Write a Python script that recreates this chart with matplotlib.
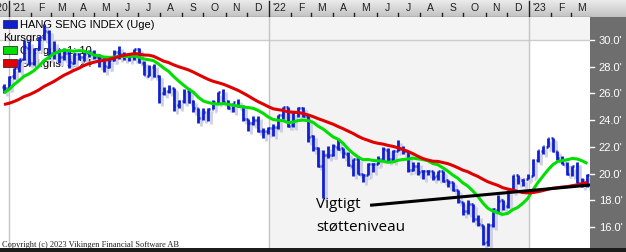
import numpy as np
import pandas as pd
import matplotlib
matplotlib.use('Agg')
import matplotlib.pyplot as plt
import matplotlib.dates as mdates
import matplotlib.transforms as mtransforms
from matplotlib.patches import Rectangle

# ugentlige data, HANG SENG INDEX i tusinder (uge start mandag)
week_start = pd.date_range('2020-12-21', '2023-03-20', freq='7D')

opens = [26.5, 26.4,
         27.3, 27.9, 28.6, 29.4, 28.3, 29.3, 30.2, 30.6, 29.0, 29.1, 28.7, 29.0, 28.3,
         28.9, 28.7, 29.0, 29.1, 28.7, 28.6, 28.0, 28.5, 29.1, 28.9, 28.8, 28.8, 29.3,
         28.3, 27.3, 28.0, 27.3, 26.0, 26.2, 26.4, 25.1, 25.4, 26.2, 25.4, 24.9, 24.2,
         24.6, 24.8, 25.3, 26.1, 25.4, 24.9, 25.3, 25.0, 24.1, 23.8, 24.0, 23.2, 23.2,
         23.4, 23.5, 24.4, 25.0, 23.6, 24.6, 24.9, 24.3, 22.8, 21.9, 20.6, 21.4, 21.4,
         22.0, 21.9, 21.5, 20.6, 21.1, 20.0, 19.9, 20.7, 20.7, 21.1, 21.8, 21.1, 21.7,
         21.9, 21.7, 20.3, 20.6, 20.2, 20.2, 20.2, 19.8, 20.2, 19.5, 19.4, 18.8, 17.9,
         17.2, 17.7, 16.6, 16.2, 14.9, 16.2, 17.3, 18.0, 17.6, 18.7, 19.9, 19.5, 19.6,
         19.8, 21.0, 21.7, 22.0, 22.7, 21.7, 21.2, 20.7, 20.0, 20.6, 19.3, 19.5]
highs = [26.7, 27.3,
         27.9, 28.6, 30.0, 29.9, 29.4, 30.2, 31.2, 30.7, 29.9, 29.3, 29.4, 29.1, 29.0,
         29.0, 29.0, 29.2, 29.2, 28.9, 28.7, 28.6, 29.2, 29.5, 29.1, 29.0, 29.3, 29.4,
         28.4, 28.1, 28.2, 27.4, 26.5, 26.6, 26.4, 25.5, 26.3, 26.4, 25.5, 24.9, 24.9,
         24.9, 25.5, 26.1, 26.3, 25.5, 25.3, 25.6, 25.1, 24.1, 24.3, 24.3, 23.4, 23.5,
         23.7, 24.4, 25.0, 25.0, 24.6, 25.0, 25.0, 24.3, 22.9, 22.0, 21.8, 22.1, 22.2,
         22.6, 21.9, 21.6, 21.1, 21.2, 20.0, 20.8, 20.8, 21.3, 22.0, 21.9, 21.8, 22.5,
         22.1, 21.7, 20.9, 20.9, 20.3, 20.3, 20.2, 20.2, 20.2, 19.5, 19.4, 18.8, 17.9,
         18.0, 17.7, 16.9, 16.2, 16.3, 17.4, 18.4, 18.0, 18.8, 19.9, 19.9, 19.6, 20.0,
         21.1, 21.8, 22.1, 22.7, 22.7, 21.7, 21.3, 20.9, 20.6, 20.9, 19.7, 20.0]
lows = [26.0, 26.3,
        27.1, 27.6, 28.5, 28.1, 28.1, 29.2, 30.0, 28.6, 28.6, 28.3, 28.5, 27.9, 28.2,
        28.5, 28.4, 28.7, 28.6, 28.0, 27.6, 27.9, 28.4, 28.6, 28.5, 28.4, 28.5, 28.3,
        27.4, 27.3, 27.2, 25.3, 25.9, 26.0, 24.7, 24.9, 25.3, 25.3, 24.6, 23.8, 24.0,
        23.9, 24.8, 25.3, 25.3, 24.8, 24.6, 25.0, 23.9, 23.2, 23.6, 23.1, 22.7, 23.0,
        22.8, 23.3, 24.1, 23.5, 23.5, 24.2, 24.2, 22.4, 21.7, 20.5, 18.2, 21.2, 21.3,
        21.8, 21.2, 20.6, 19.8, 20.0, 19.4, 19.9, 20.1, 20.7, 21.0, 20.9, 20.9, 21.7,
        21.5, 20.1, 20.2, 19.9, 19.6, 19.9, 19.5, 19.5, 19.4, 19.0, 18.7, 17.8, 16.9,
        17.0, 16.4, 16.1, 14.7, 14.6, 16.0, 17.1, 17.3, 17.4, 18.6, 19.2, 19.1, 19.6,
        19.8, 20.9, 21.5, 22.0, 21.6, 21.0, 20.7, 19.9, 19.8, 19.3, 19.0, 19.0]
closes = [26.39, 27.23,
          27.88, 28.57, 29.45, 28.28, 29.29, 30.17, 30.64, 28.98, 29.10, 28.74, 28.99, 28.34, 28.94,
          28.70, 28.97, 29.08, 28.72, 28.61, 28.03, 28.46, 29.12, 28.92, 28.84, 28.80, 29.29, 28.31,
          27.34, 28.00, 27.32, 25.96, 26.18, 26.39, 25.05, 25.41, 26.16, 25.37, 24.92, 24.19, 24.58,
          24.84, 25.33, 26.13, 25.38, 24.87, 25.33, 25.05, 24.08, 23.77, 24.00, 23.19, 23.22, 23.40,
          23.49, 24.38, 24.97, 23.55, 24.57, 24.91, 24.33, 22.77, 21.91, 20.55, 21.41, 21.41, 22.04,
          21.87, 21.52, 20.64, 21.09, 20.00, 19.90, 20.72, 20.70, 21.08, 21.81, 21.08, 21.72, 21.86,
          21.73, 20.30, 20.61, 20.16, 20.20, 20.18, 19.77, 20.17, 19.45, 19.36, 18.76, 17.93, 17.22,
          17.74, 16.59, 16.21, 14.86, 16.16, 17.33, 17.99, 17.57, 18.68, 19.90, 19.45, 19.59, 19.78,
          20.99, 21.74, 22.04, 22.69, 21.66, 21.19, 20.72, 20.01, 20.57, 19.32, 19.52, 19.92]
# lukkekurser fra før det viste udsnit (bruges kun til glidende gennemsnit)
hist_closes = [25.09, 24.71, 24.60, 24.53, 25.18, 25.11, 25.42, 24.70, 24.50, 24.46, 23.24, 23.46,
               24.12, 24.39, 24.92, 24.11, 25.71, 26.16, 26.45, 26.89, 26.84, 26.51, 26.50]

support_dates = ['2022-05-25', '2023-03-27']
support_vals = [17.65, 19.15]

month_letters = ['J', 'F', 'M', 'A', 'M', 'J', 'J', 'A', 'S', 'O', 'N', 'D']
yticks = [16, 18, 20, 22, 24, 26, 28, 30]

legend_items = [('HANG SENG INDEX (Uge)', '#1020d0'), ('Kursgraf', None),
                ('Glid.gns. 1: 10', '#00e000'), ('Glid.gns. 3: 24', '#e00000')]

all_closes = pd.Series(hist_closes + closes)
ma_short = all_closes.rolling(10).mean().values[len(hist_closes):]
ma_long = all_closes.rolling(24).mean().values[len(hist_closes):]

W, H = 626, 253
fig = plt.figure(figsize=(W / 100, H / 100), dpi=100)
fig.patch.set_facecolor('#d4d4d4')


def box(x0, y0, x1, y1):
    return [x0 / W, 1 - y1 / H, (x1 - x0) / W, (y1 - y0) / H]


# x akse: 260 px pr. år, 1. jan 2021 ved x=9
jan21 = mdates.date2num(pd.Timestamp('2021-01-01'))
day_px = 260 / 365.0
x_left = jan21 - 9 / day_px
x_right = jan21 + (590 - 9) / day_px
y_lo, y_hi = 14.45, 31.7

ax = fig.add_axes(box(0, 18, 590, 249))
ax.set_xlim(x_left, x_right)
ax.set_ylim(y_lo, y_hi)
ax.set_facecolor('white')
for s in ax.spines.values():
    s.set_visible(False)
ax.set_xticks([])
ax.set_yticks([])

# baggrund: årsbånd og gitter
ax.axvspan(mdates.date2num(pd.Timestamp('2022-01-01')), mdates.date2num(pd.Timestamp('2023-01-01')),
           color='#f3f3f3', zorder=0, lw=0)
ax.axhspan(30, y_hi, color='#f4f4f4', zorder=0.1, lw=0)
ax.axhline(30, color='#cccccc', lw=1, zorder=0.5)
for yr in ['2021-01-01', '2022-01-01', '2023-01-01']:
    ax.axvline(mdates.date2num(pd.Timestamp(yr)), color='#c4c4c4', lw=1, zorder=0.5)

# legende (tegnes under kurserne)
ly = [25, 38, 51, 64]
for (txt, col), yy in zip(legend_items, ly):
    fy = (249 - yy) / 231
    if col is not None:
        ax.add_patch(Rectangle((3 / 590, fy - 4 / 231), 14 / 590, 8 / 231, transform=ax.transAxes,
                               facecolor=col, edgecolor='#303030', lw=0.6, zorder=1))
        tx = 20 / 590
    else:
        tx = 3 / 590
    ax.text(tx, fy, txt, transform=ax.transAxes, fontsize=8, family='Liberation Sans',
            va='center', ha='left', color='black', zorder=1)

# ugebarer med skygge
x = mdates.date2num(week_start + pd.Timedelta(days=4))
tick = 2.6
shadow = mtransforms.offset_copy(ax.transData, fig=fig, x=3, y=-3, units='dots')
for tr, col, z in [(shadow, '#cdd0e2', 2), (ax.transData, '#1020d0', 3)]:
    ax.vlines(x, lows, highs, colors=col, lw=2.0, transform=tr, zorder=z)
    ax.hlines(opens, x - tick, x, colors=col, lw=1.8, transform=tr, zorder=z)
    ax.hlines(closes, x, x + tick, colors=col, lw=1.8, transform=tr, zorder=z)

ax.plot(x, ma_short, color='#00e000', lw=2.2, zorder=4, solid_capstyle='butt')
ax.plot(x, ma_long, color='#e00000', lw=2.2, zorder=4.5, solid_capstyle='butt')
ax.plot(mdates.date2num(pd.to_datetime(support_dates)), support_vals, color='black', lw=2.2, zorder=5)

ax.text(316 / 590, (249 - 208) / 231, 'Vigtigt', transform=ax.transAxes, fontsize=11,
        family='Open Sans', va='baseline', ha='left', zorder=6)
ax.text(316 / 590, (249 - 231) / 231, 'støtteniveau', transform=ax.transAxes, fontsize=11,
        family='Open Sans', va='baseline', ha='left', zorder=6)

# øverste tidsakse
ax_t = fig.add_axes(box(0, 0, W, 18))
ax_t.set_xlim(x_left, x_left + W / day_px)
ax_t.set_ylim(0, 18)
grad = np.linspace(0, 1, 50).reshape(-1, 1)
ax_t.imshow(grad, cmap=matplotlib.colors.LinearSegmentedColormap.from_list('g', ['#eeeeee', '#c2c2c2']),
            extent=[0, 1, 0, 1], transform=ax_t.transAxes, aspect='auto', zorder=0)
for s in ax_t.spines.values():
    s.set_visible(False)
ax_t.axhline(0.3, xmax=590 / W, color='#808080', lw=1)
ax_t.set_xticks([])
ax_t.set_yticks([])
months = pd.date_range('2021-01-01', '2023-03-01', freq='MS')
for m in months:
    mx = mdates.date2num(m)
    if m.month == 1:
        ax_t.plot([mx, mx], [0, 16], color='#202020', lw=1)
        lab = "'" + str(m.year)[2:]
    else:
        ax_t.plot([mx, mx], [0, 4], color='#202020', lw=1)
        lab = month_letters[m.month - 1]
    ax_t.text(mx + 15, 10, lab, ha='center', va='center', fontsize=7.5,
              family='Liberation Sans', color='#202020')
ax_t.text(jan21 - 1, 10, "'20", ha='right', va='center', fontsize=7.5,
          family='Liberation Sans', color='#202020')

# højre kursakse
ax_r = fig.add_axes(box(590, 18, W, 249))
ax_r.set_facecolor('#6e6e6e')
ax_r.set_ylim(y_lo, y_hi)
ax_r.set_xlim(0, 1)
ax_r.set_xticks([])
ax_r.set_yticks([])
for s in ax_r.spines.values():
    s.set_visible(False)
for v in yticks:
    ax_r.plot([0, 0.11], [v, v], color='white', lw=1)
    ax_r.text(0.24, v, '%.1f\'' % v, color='white', fontsize=8, family='Liberation Sans',
              va='center', ha='left')

fig.text(2 / W, 1 - 245 / H, 'Copyright (c) 2023 Vikingen Financial Software AB',
         fontsize=6, family='Liberation Serif', va='center', ha='left', color='#202020')
fig.patches.append(Rectangle((0, 0), 1, 4 / H, transform=fig.transFigure,
                             facecolor='#1c1c1c', edgecolor='none'))

fig.savefig('out.png', dpi=100)
